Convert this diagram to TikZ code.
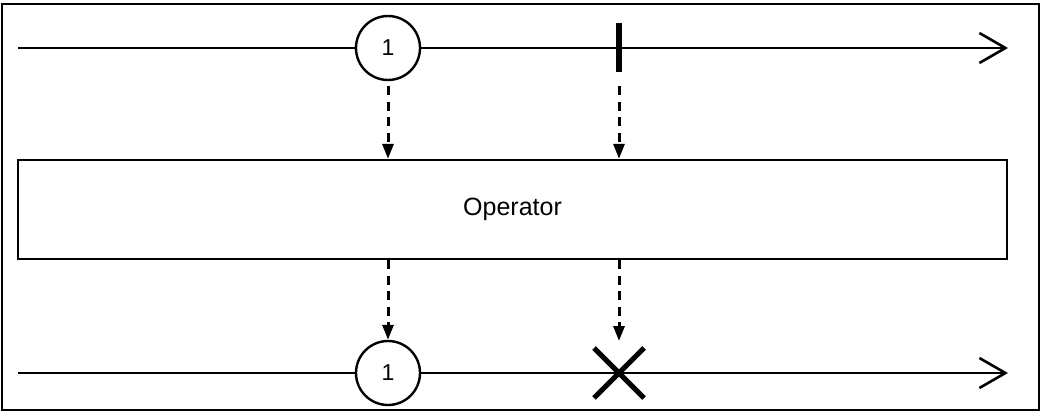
\documentclass[tikz,border=0pt]{standalone}
\usepackage{fontspec}
\setmainfont{Liberation Sans}
\usetikzlibrary{arrows.meta,calc}
\begin{document}
\begin{tikzpicture}[x=1pt,y=-1pt,
  timeline/.style={line width=2.6pt,-{Straight Barb[length=26pt,width=30pt,line width=2.6pt]}},
  value/.style={circle,draw,line width=2.4pt,fill=white,minimum size=64pt,inner sep=0pt,font=\fontsize{23}{26}\selectfont},
  flow/.style={line width=3pt,dash pattern=on 9pt off 6.5pt,-{Triangle[length=15pt,width=11pt]}},
  opbox/.style={draw,line width=2.4pt,minimum width=989pt,minimum height=99pt,inner sep=0pt,font=\fontsize{25}{28}\selectfont},
  frame/.style={draw,line width=2.2pt}]
\useasboundingbox (0,0) rectangle (1041,415);
\draw[frame] (2,4) rectangle (1039,410);
% top timeline
\coordinate (tl) at (18,48);
\coordinate (tr) at (1008,48);
\draw[timeline] (tl) -- (tr);
\node[value] (v1) at (388,48) {1};
\coordinate (c1) at (619,48);
\draw[line width=6pt] (619,23) coordinate (ctop) -- (619,72) coordinate (cbot);
% operator box
\node[opbox] (op) at (512.5,209.5) {Operator};
% dashed arrows top
\draw[flow] (v1.south |- 0,86) -- (v1.south |- op.north);
\draw[flow] (cbot |- 0,86) -- (cbot |- op.north);
% bottom timeline
\coordinate (bl) at (18,373);
\coordinate (br) at (1008,373);
\draw[timeline] (bl) -- (br);
\node[value] (v2) at (388,373) {1};
\coordinate (x) at (619,373);
\draw[line width=5pt] ($(x)+(-25,-25)$) -- ($(x)+(25,25)$);
\draw[line width=5pt] ($(x)+(-25,25)$) -- ($(x)+(25,-25)$);
% dashed arrows bottom
\draw[flow] (op.south -| v2.north) -- (v2.north);
\draw[flow] (op.south -| x) -- ($(x)+(0,-32)$);
\end{tikzpicture}
\end{document}
